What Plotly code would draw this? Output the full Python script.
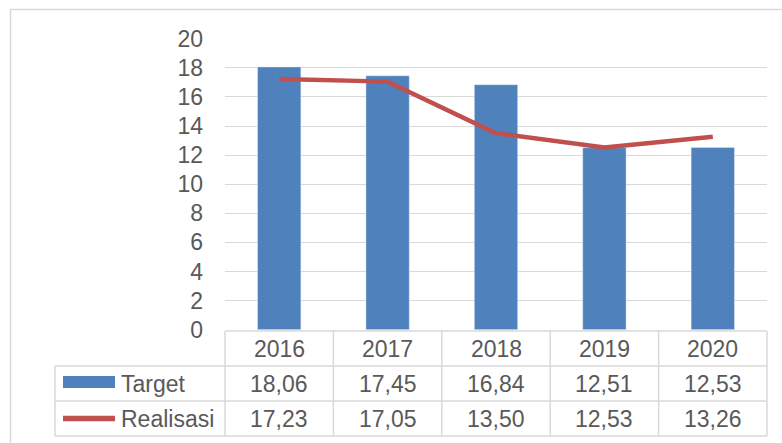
import plotly.graph_objects as go

years = ["2016", "2017", "2018", "2019", "2020"]
target = [18.06, 17.45, 16.84, 12.51, 12.53]
realisasi = [17.23, 17.05, 13.50, 12.53, 13.26]
target_labels = ["18,06", "17,45", "16,84", "12,51", "12,53"]
realisasi_labels = ["17,23", "17,05", "13,50", "12,53", "13,26"]
series_names = ["Target", "Realisasi"]

W, H = 782, 443
BLUE = "#4f81bd"
RED = "#c0504d"
GRID = "#d9d9d9"
TXT = "#595959"
FONT = "Liberation Sans, Arial, sans-serif"


def px(x):
    return x / W


def py(y):
    return 1 - y / H


fig = go.Figure()
fig.add_trace(go.Bar(x=years, y=target, name=series_names[0], marker_color=BLUE,
                     width=0.4, showlegend=False))
fig.add_trace(go.Scatter(x=years, y=realisasi, name=series_names[1], mode="lines",
                         line=dict(color=RED, width=4.5), showlegend=False))

plot_left, plot_right = 225, 767
plot_top, plot_bottom = 38.7, 329.7

shapes = []
# outer chart border
shapes.append(dict(type="rect", xref="paper", yref="paper", x0=px(10.5), x1=1.2,
                   y0=-0.2, y1=py(9.5), line=dict(color=GRID, width=1.5)))

# data table geometry (pixel rows)
row_top = 331
row_lines = [366, 401, 436]
legend_left = 55
n = len(years)
# horizontal lines
shapes.append(dict(type="line", xref="x domain", yref="paper", x0=0, x1=1,
                   y0=py(row_top), y1=py(row_top), line=dict(color=GRID, width=1.5)))
for r in row_lines:
    shapes.append(dict(type="line", xref="paper", yref="paper", x0=px(legend_left), x1=px(plot_right),
                       y0=py(r), y1=py(r), line=dict(color=GRID, width=1.5)))
# vertical lines
for i in range(n + 1):
    shapes.append(dict(type="line", xref="x domain", yref="paper", x0=i / n, x1=i / n,
                       y0=py(row_top), y1=py(row_lines[-1]), line=dict(color=GRID, width=1.5)))
shapes.append(dict(type="line", xref="paper", yref="paper", x0=px(legend_left), x1=px(legend_left),
                   y0=py(row_lines[0]), y1=py(row_lines[-1]), line=dict(color=GRID, width=1.5)))
# legend keys
shapes.append(dict(type="rect", xref="paper", yref="paper", x0=px(63), x1=px(115),
                   y0=py(388), y1=py(376), fillcolor=BLUE, line=dict(width=0)))
shapes.append(dict(type="line", xref="paper", yref="paper", x0=px(63), x1=px(115),
                   y0=py(418.5), y1=py(418.5), line=dict(color=RED, width=5.5)))

annotations = []
fnt = dict(family=FONT, size=23, color=TXT)
row_centers = [(row_top + row_lines[0]) / 2, (row_lines[0] + row_lines[1]) / 2,
               (row_lines[1] + row_lines[2]) / 2]
for i, yr in enumerate(years):
    for r, txt in enumerate([yr, target_labels[i], realisasi_labels[i]]):
        annotations.append(dict(x=i, xref="x", y=py(row_centers[r]), yref="paper", text=txt,
                                showarrow=False, font=fnt, xanchor="center", yanchor="middle"))
annotations.append(dict(x=px(119), xref="paper", y=py(row_centers[1]), yref="paper", text=series_names[0],
                        showarrow=False, font=fnt, xanchor="left", yanchor="middle"))
annotations.append(dict(x=px(119), xref="paper", y=py(row_centers[2]), yref="paper", text=series_names[1],
                        showarrow=False, font=fnt, xanchor="left", yanchor="middle"))

fig.update_layout(
    width=W, height=H,
    margin=dict(l=0, r=0, t=0, b=0, autoexpand=False),
    paper_bgcolor="white", plot_bgcolor="white",
    font=fnt,
    xaxis=dict(domain=[px(plot_left), px(plot_right)], range=[-0.5, 4.5], type="category",
               showticklabels=False, showgrid=False, zeroline=False, showline=False, ticks=""),
    yaxis=dict(domain=[py(plot_bottom), py(plot_top)], range=[0, 20], dtick=2,
               showgrid=True, gridcolor=GRID, gridwidth=1.3, zeroline=False, showline=False,
               ticks="", ticklabelstandoff=21, tickfont=fnt),
    shapes=shapes,
    annotations=annotations,
)

fig.write_html("out.html", config={"displayModeBar": False},
               post_script="document.body.style.margin='0';")
